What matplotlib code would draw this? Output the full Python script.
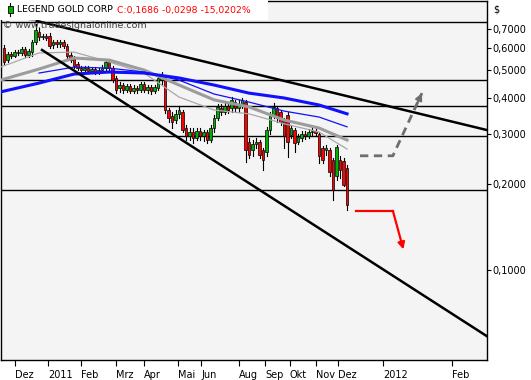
import matplotlib
matplotlib.use("Agg")
import matplotlib.pyplot as plt
from matplotlib.patches import Rectangle
from matplotlib.lines import Line2D

# candles (one bar every few trading days), price in USD
opens = [.598, .543, .570, .561, .579, .575, .594, .566, .579, .628,
         .681, .654, .659, .659, .613, .628, .618, .628, .608, .566,
         .552, .526, .509, .501, .509, .497, .505, .493, .501, .509,
         .535, .509, .470, .434, .444, .427, .441, .423, .434, .427,
         .448, .427, .437, .423, .434, .462, .470, .363, .346, .335,
         .352, .357, .314, .294, .304, .290, .307, .294, .304, .285,
         .314, .340, .369, .357, .375, .369, .387, .369, .378, .387,
         .281, .263, .276, .281, .263, .259, .309, .349, .369, .357,
         .335, .349, .297, .309, .281, .290, .299, .294, .304, .307,
         .299, .267, .263, .263, .243, .213, .243, .240, .228]
highs = [.613, .579, .579, .589, .589, .603, .603, .594, .638, .726,
         .703, .670, .670, .675, .638, .638, .638, .638, .618, .579,
         .561, .535, .518, .518, .518, .513, .513, .509, .522, .543,
         .543, .518, .478, .455, .451, .448, .448, .444, .441, .455,
         .455, .444, .444, .444, .481, .493, .478, .369, .357, .363,
         .372, .363, .322, .314, .314, .314, .314, .309, .309, .322,
         .349, .381, .381, .384, .381, .403, .394, .394, .400, .394,
         .290, .285, .290, .285, .267, .317, .357, .384, .375, .363,
         .340, .357, .322, .314, .299, .307, .307, .312, .314, .312,
         .304, .272, .274, .267, .247, .274, .251, .247, .233]
lows = [.526, .535, .552, .557, .566, .566, .557, .557, .561, .618,
        .638, .643, .638, .598, .598, .603, .603, .598, .552, .535,
        .509, .501, .489, .493, .489, .489, .485, .485, .493, .501,
        .501, .455, .416, .420, .416, .420, .416, .416, .416, .420,
        .420, .416, .413, .416, .427, .448, .354, .330, .314, .327,
        .340, .304, .285, .285, .278, .285, .285, .283, .278, .281,
        .304, .335, .349, .352, .354, .357, .357, .357, .369, .239,
        .247, .251, .267, .247, .224, .251, .299, .340, .330, .322,
        .267, .249, .290, .259, .276, .283, .287, .290, .294, .294,
        .237, .237, .253, .213, .176, .207, .210, .196, .162]
closes = [.535, .570, .561, .579, .575, .594, .566, .584, .628, .692,
          .654, .659, .649, .608, .628, .618, .628, .608, .561, .543,
          .518, .509, .501, .509, .497, .505, .493, .501, .509, .535,
          .509, .462, .427, .444, .427, .441, .423, .434, .427, .448,
          .427, .437, .423, .437, .470, .478, .363, .340, .330, .352,
          .363, .309, .294, .304, .290, .307, .294, .304, .285, .314,
          .340, .372, .357, .375, .363, .394, .369, .381, .394, .263,
          .253, .276, .281, .253, .243, .309, .349, .372, .340, .330,
          .294, .281, .314, .278, .292, .299, .294, .304, .307, .302,
          .251, .243, .267, .220, .191, .270, .224, .1984, .1686]

# moving averages sampled at bar numbers
ma_bars = [-1, 10, 20, 30, 40, 50, 60, 70, 80, 90, 98]
ma_blue_slow = [.420, .451, .485, .493, .489, .470, .444, .416, .400, .378, .352]
ma_gray_slow = [.462, .505, .552, .543, .501, .444, .394, .372, .335, .314, .285]
ma_gray_fast = [.513, .575, .579, .535, .489, .403, .363, .352, .325, .304, .265]
ma_blue_fast = [.489, .513, .509, .493, .462, .413, .387, .360, .343, .317]

# drawn lines
levels = [.736, .461, .376, .294, .190]
upper_bars, upper_px = [9.4, 137.9], [.744, .309]
upper_ext_bars, upper_ext_px = [-0.9, 9.4], [.800, .744]
lower_bars, lower_px = [10.86, 137.9], [.589, .0587]
up_bars, up_px = [101.7, 111.1, 119.4], [.251, .251, .416]
down_bars, down_px = [100.6, 111.1, 114.1], [.161, .161, .118]

tick_pos = [3.1, 12.7, 22.0, 31.9, 40.1, 49.8, 56.3, 67.1, 74.6, 81.7, 89.1, 95.5, 108.4, 128.1]
tick_lbl = ["Dez", "2011", "Feb", "Mrz", "Apr", "Mai", "Jun", "Aug", "Sep", "Okt",
            "Nov", "Dez", "2012", "Feb"]
price_ticks = [0.1, 0.2, 0.3, 0.4, 0.5, 0.6, 0.7]

W, H = 531, 380
fig = plt.figure(figsize=(W / 100, H / 100), dpi=100)
fig.patch.set_facecolor("white")
ax = fig.add_axes([1 / W, 20 / H, 485.7 / W, 359 / H])
ax.set_facecolor("#f4f4f4")
ax.set_yscale("log")
ax.set_xlim(-0.86, 137.9)
ax.set_ylim(0.0484, 0.874)

for lv in levels:
    ax.axhline(lv, color="black", lw=1.0, zorder=1)

# candles
for i in range(len(closes)):
    o, h, l, c = opens[i], highs[i], lows[i], closes[i]
    col = "#00b000" if c >= o else "#ff0000"
    ax.plot([i, i], [l, h], color="black", lw=0.8, zorder=2)
    ax.bar(i, abs(c - o), bottom=min(o, c), width=0.7, color=col,
           edgecolor="black", linewidth=0.5, zorder=3)

ax.plot(ma_bars, ma_gray_fast, color="#a8a8a8", lw=0.9, zorder=4)
ax.plot(ma_bars, ma_gray_slow, color="#9c9c9c", lw=2.2, zorder=4)
ax.plot(ma_bars[1:], ma_blue_fast, color="#1010ff", lw=0.9, zorder=4)
ax.plot(ma_bars, ma_blue_slow, color="#1010ff", lw=2.2, zorder=4)

ax.plot(upper_ext_bars, upper_ext_px, color="#a0a0a0", lw=1.8, zorder=5)
ax.plot(upper_bars, upper_px, color="black", lw=1.8, zorder=5)
ax.plot(lower_bars, lower_px, color="black", lw=1.8, zorder=5)

# scenario arrows
ax.plot(up_bars, up_px, color="#6e6e6e", lw=2.0, ls=(0, (3, 2)), zorder=5)
ax.annotate("", xy=(up_bars[-1], up_px[-1]),
            xytext=(up_bars[-1] - 0.25 * (up_bars[-1] - up_bars[-2]),
                    up_px[-1] * (up_px[-2] / up_px[-1]) ** 0.25),
            arrowprops=dict(arrowstyle="-|>", color="#6e6e6e", lw=1.5,
                            mutation_scale=10, shrinkA=0, shrinkB=0), zorder=5)
ax.plot(down_bars[:2], down_px[:2], color="red", lw=1.6, zorder=5)
ax.annotate("", xy=(down_bars[2], down_px[2]), xytext=(down_bars[1], down_px[1]),
            arrowprops=dict(arrowstyle="-|>", color="red", lw=1.6,
                            mutation_scale=10, shrinkA=0, shrinkB=0), zorder=5)

# axes styling
ax.yaxis.tick_right()
ax.set_yticks(price_ticks)
ax.set_yticklabels([f"{v:.4f}".replace(".", ",") for v in price_ticks])
ax.yaxis.set_minor_locator(matplotlib.ticker.NullLocator())
ax.set_xticks(tick_pos)
ax.set_xticklabels(tick_lbl, ha="left")
ax.tick_params(axis="y", length=3, width=0.8, pad=1, labelsize=7, colors="black")
ax.tick_params(axis="x", length=4, width=0.8, pad=3, labelsize=7, colors="black")
for s in ax.spines.values():
    s.set_color("black")
    s.set_linewidth(1.0)

fig.text(493 / W, 1 - 10 / H, "$", fontsize=7, va="center", ha="left")

# header box with symbol
fig.add_artist(Rectangle((0, 1 - 20 / H), 268 / W, 20 / H, transform=fig.transFigure,
                         facecolor="white", edgecolor="none", zorder=10))
fig.add_artist(Line2D([10 / W, 10 / W], [1 - 16 / H, 1 - 3 / H], transform=fig.transFigure,
                      color="black", lw=0.8, zorder=11))
fig.add_artist(Rectangle((8 / W, 1 - 13 / H), 5 / W, 7 / H, transform=fig.transFigure,
                         facecolor="#00b000", edgecolor="black", lw=0.6, zorder=12))
name_txt = fig.text(17 / W, 1 - 10 / H, "LEGEND GOLD CORP", fontsize=6.7, va="center",
                    ha="left", zorder=13)
fig.canvas.draw()
name_end = name_txt.get_window_extent().x1
fig.text((name_end + 4) / W, 1 - 10 / H, "C:0,1686 -0,0298 -15,0202%", fontsize=6.7,
         color="red", va="center", ha="left", zorder=13)
fig.text(3 / W, 1 - 26 / H, "\u00a9 www.tradesignalonline.com", fontsize=6.8, color="#404040",
         va="center", ha="left", zorder=13)

fig.savefig("out.png", dpi=100)
